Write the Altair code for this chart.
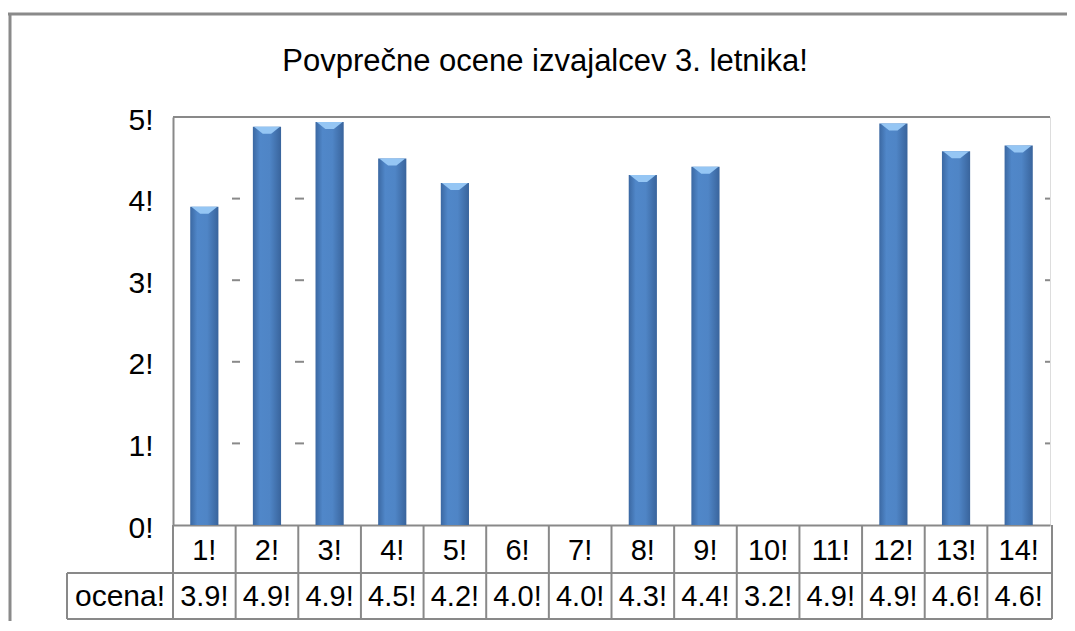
import altair as alt
import pandas as pd

# ---- data ----
categories = [str(i) for i in range(1, 15)]
bar_values = [3.9, 4.88, 4.94, 4.49, 4.19, None, None, 4.29, 4.39, None, None, 4.92, 4.58, 4.65]
table_values = [3.9, 4.9, 4.9, 4.5, 4.2, 4.0, 4.0, 4.3, 4.4, 3.2, 4.9, 4.9, 4.6, 4.6]
y_ticks = [0, 1, 2, 3, 4, 5]
stub_levels = [1, 2, 3, 4]
title_text = "Povprečne ocene izvajalcev 3. letnika!"
row_label = "ocena!"

df = pd.DataFrame({
    "cat": categories,
    "value": bar_values,
    "label": [f"{v:.1f}!" for v in table_values],
})
one = pd.DataFrame({"k": [0]})
stubs = pd.DataFrame({"level": stub_levels})

W, H = 877, 408
FONT = "Liberation Sans"
GRAY = "#898989"
FS = 30
BOT = H + 94

xenc = alt.X(
    "cat:N", sort=categories,
    scale=alt.Scale(paddingInner=0, paddingOuter=0),
    axis=alt.Axis(
        title=None, labelExpr="datum.label + '!'", labelFont=FONT, labelFontSize=29,
        labelColor="black", labelAngle=0, labelAlign="center", labelBaseline="middle",
        labelPadding=25, bandPosition=0.5,
        ticks=False, tickSize=0, domainColor=GRAY, domainWidth=2, grid=False,
    ),
)
yenc = alt.Y(
    "value:Q", scale=alt.Scale(domain=[0, 5]),
    axis=alt.Axis(
        title=None, values=y_ticks, labelExpr="datum.value + '!'", labelFont=FONT,
        labelFontSize=FS, labelColor="black", labelPadding=20, labelBaseline="middle",
        labelOffset=3, ticks=False, tickSize=0, grid=False, domainColor=GRAY, domainWidth=2,
    ),
)

grad = alt.Gradient(
    gradient="linear", x1=0, x2=1, y1=0, y2=0,
    stops=[
        alt.GradientStop(offset=0, color="#3b68a2"),
        alt.GradientStop(offset=0.25, color="#5087c9"),
        alt.GradientStop(offset=0.6, color="#4f85c6"),
        alt.GradientStop(offset=1, color="#39649c"),
    ],
)

bars = alt.Chart(df).mark_bar(width=alt.RelativeBandSize(0.45), color=grad).encode(x=xenc, y=yenc)

caps = alt.Chart(df).mark_point(
    shape="M-0.93,0 L0.93,0 L0.3,0.5 L-0.3,0.5 Z", size=784, filled=True,
    color="#95c6f4", opacity=1, strokeWidth=0,
).encode(x=alt.X("cat:N", sort=categories), y=alt.Y("value:Q"))

top_line = alt.Chart(one).mark_rule(color=GRAY, strokeWidth=2).encode(
    y=alt.datum(5), x=alt.value(0), x2=alt.value(W)
)

stub_rules = [
    alt.Chart(stubs).mark_rule(color=GRAY, strokeWidth=2).encode(
        y=alt.Y("level:Q"), x=alt.value(a), x2=alt.value(b)
    )
    for a, b in [(59, 67), (122, 131), (872, 877)]
]

dividers = alt.Chart(df).mark_rule(color=GRAY, strokeWidth=2).encode(
    x=alt.X("cat:N", sort=categories, bandPosition=0), y=alt.value(H), y2=alt.value(BOT)
)
right_edge = alt.Chart(one).mark_rule(color=GRAY, strokeWidth=2).encode(
    x=alt.value(W + 2), y=alt.value(H), y2=alt.value(BOT)
)
left_edge = alt.Chart(one).mark_rule(color=GRAY, strokeWidth=2).encode(
    x=alt.value(-106), y=alt.value(H + 48), y2=alt.value(BOT)
)
hline_mid = alt.Chart(one).mark_rule(color=GRAY, strokeWidth=2).encode(
    x=alt.value(-106), x2=alt.value(W + 2), y=alt.value(H + 48)
)
hline_bot = alt.Chart(one).mark_rule(color=GRAY, strokeWidth=2).encode(
    x=alt.value(-106), x2=alt.value(W + 2), y=alt.value(BOT)
)

values_text = alt.Chart(df).mark_text(
    font=FONT, fontSize=29, color="black", baseline="middle", align="center"
).encode(x=alt.X("cat:N", sort=categories), y=alt.value(H + 72), text="label:N")

row_text = alt.Chart(one).mark_text(
    font=FONT, fontSize=FS, color="black", baseline="middle", align="center", text=row_label
).encode(x=alt.value(-53), y=alt.value(H + 72))

title_mark = alt.Chart(one).mark_text(
    font=FONT, fontSize=31, color="black", baseline="alphabetic", align="center", text=title_text
).encode(x=alt.value(372), y=alt.value(-46))

frame_top = alt.Chart(one).mark_rule(color="#8a8a8a", strokeWidth=3).encode(
    x=alt.value(-165), x2=alt.value(W + 20), y=alt.value(-103)
)
frame_left = alt.Chart(one).mark_rule(color="#8a8a8a", strokeWidth=3).encode(
    x=alt.value(-163), y=alt.value(-103), y2=alt.value(H + 100)
)

chart = alt.layer(
    frame_top, frame_left, *stub_rules, top_line, dividers, right_edge, left_edge,
    hline_mid, hline_bot, bars, caps, values_text, row_text, title_mark,
).properties(
    width=W, height=H,
    padding={"left": 165, "top": 109, "right": 17, "bottom": 96},
    autosize=alt.AutoSizeParams(type="none"),
).configure_view(stroke=None).configure(background="white")

chart.save("out.html", embed_options={"renderer": "svg", "actions": False})
